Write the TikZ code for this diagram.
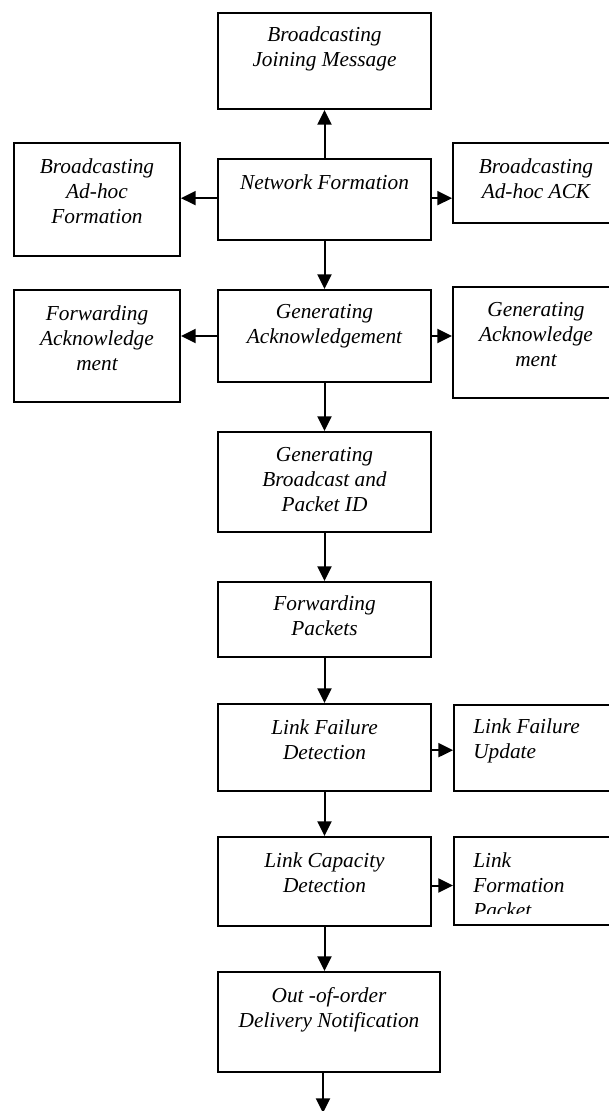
\documentclass[tikz,border=0pt]{standalone}
\usepackage{fontspec}
\setmainfont{Liberation Serif}
\usetikzlibrary{arrows.meta,positioning}

\begin{document}
\begin{tikzpicture}[x=0.75pt,y=-0.75pt,
        box/.style={draw,line width=1.5pt,anchor=north west,inner sep=0pt},
        mainbox/.style={box,minimum width=159.75pt},
        sidebox/.style={box,minimum width=124.5pt},
        txt/.style={font=\itshape\fontsize{16}{18.75}\selectfont,align=center,inner sep=0pt,anchor=north},
        flow/.style={line width=1.5pt,-{Triangle[length=11pt,width=10.5pt]}}]
        \useasboundingbox (0,0) rectangle (608,1111);
        %% Top row
        \node[mainbox,minimum height=72pt] (join) at (217,12) {};
        \node[txt,below=11pt of join.north] (join-t) {Broadcasting\\Joining Message};
        %% Network formation row
        \node[mainbox,minimum height=60.75pt] (net) at (217,158) {};
        \node[txt,below=12pt of net.north] (net-t) {Network Formation};
        \node[sidebox,minimum height=84.75pt] (adhoc) at (13,142) {};
        \node[txt,below=12pt of adhoc.north] (adhoc-t) {Broadcasting\\Ad-hoc\\Formation};
        \node[sidebox,minimum height=60pt] (adack) at (452,142) {};
        \node[txt,below=12pt of adack.north] (adack-t) {Broadcasting\\Ad-hoc ACK};
        %% Acknowledgement row
        \node[mainbox,minimum height=69pt] (genack) at (217,289) {};
        \node[txt,below=11pt of genack.north] (genack-t) {Generating\\Acknowledgement};
        \node[sidebox,minimum height=84pt] (fwdack) at (13,289) {};
        \node[txt,below=12pt of fwdack.north] (fwdack-t) {Forwarding\\Acknowledge\\ment};
        \node[sidebox,minimum height=83.25pt] (genack2) at (452,286) {};
        \node[txt,below=12pt of genack2.north] (genack2-t) {Generating\\Acknowledge\\ment};
        %% Packets
        \node[mainbox,minimum height=75pt] (bcast) at (217,431) {};
        \node[txt,below=12pt of bcast.north] (bcast-t) {Generating\\Broadcast and\\Packet ID};
        \node[mainbox,minimum height=56.25pt] (fwdpkt) at (217,581) {};
        \node[txt,below=11pt of fwdpkt.north] (fwdpkt-t) {Forwarding\\Packets};
        %% Links
        \node[mainbox,minimum height=65.25pt] (fail) at (217,703) {};
        \node[txt,below=12pt of fail.north] (fail-t) {Link Failure\\Detection};
        \node[sidebox,minimum height=64.5pt] (upd) at (453,704) {};
        \node[txt,align=left,anchor=north west] (upd-t) at ([xshift=15pt,yshift=-11pt]upd.north west) {Link Failure\\Update};
        \node[mainbox,minimum height=66.75pt] (cap) at (217,836) {};
        \node[txt,below=12pt of cap.north] (cap-t) {Link Capacity\\Detection};
        \node[sidebox,minimum height=66pt] (form) at (453,836) {};
        \begin{scope}
            \clip (453,836) rectangle (640,913);
            \node[txt,align=left,anchor=north west] (form-t) at ([xshift=15pt,yshift=-12pt]form.north west) {Link\\Formation\\Packet};
        \end{scope}
        %% Delivery
        \node[box,minimum width=166.5pt,minimum height=75pt] (ooo) at (217,971) {};
        \node[txt,below=12pt of ooo.north] (ooo-t) {Out -of-order\\Delivery Notification};
        \coordinate (out) at (323,1113);
        %% Arrows
        \draw[flow] (net) -- (join);
        \draw[flow] ([yshift=1pt]net.west) -- ([yshift=1pt]net.west -| adhoc.east);
        \draw[flow] ([yshift=1pt]net.east) -- ([yshift=1pt]net.east -| adack.west);
        \draw[flow] (net) -- (genack);
        \draw[flow] (genack.west) -- (genack.west -| fwdack.east);
        \draw[flow] (genack.east) -- (genack.east -| genack2.west);
        \draw[flow] (genack) -- (bcast);
        \draw[flow] (bcast) -- (fwdpkt);
        \draw[flow] (fwdpkt) -- (fail);
        \draw[flow] ([yshift=-2pt]fail.east) -- ([yshift=-2pt]fail.east -| upd.west);
        \draw[flow] (fail) -- (cap);
        \draw[flow] ([yshift=-3pt]cap.east) -- ([yshift=-3pt]cap.east -| form.west);
        \draw[flow] (cap.south) -- (cap.south |- ooo.north);
        \draw[flow] (out |- ooo.south) -- (out);
    \end{tikzpicture}
\end{document}
